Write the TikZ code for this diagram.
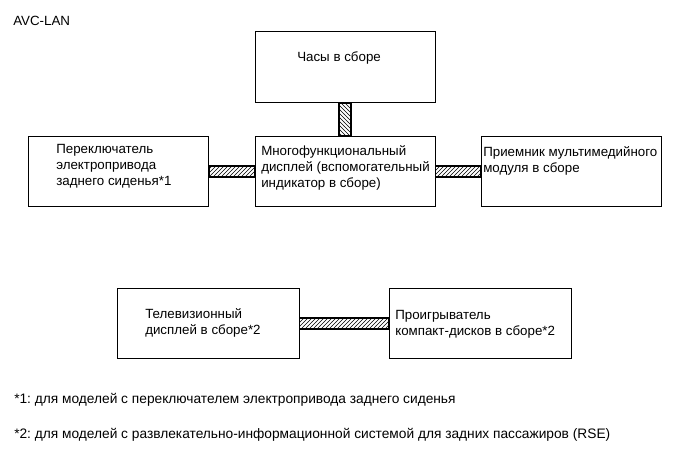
\documentclass[tikz,border=0pt]{standalone}
\usepackage{fontspec}
\setmainfont{Liberation Sans}
\frenchspacing
\usetikzlibrary{positioning, fit, patterns}

\begin{document}
\begin{tikzpicture}[
  x=0.75pt, y=-0.75pt,
  font=\fontsize{10}{12.2}\selectfont,
  unit/.style={draw, line width=0.7pt, minimum width=135pt,
               minimum height=53pt, inner sep=0pt},
  txt/.style={anchor=north west, align=left, inner sep=0pt},
  note/.style={txt, font=\fontsize{10.3}{12.2}\selectfont},
  hbus/.style={draw, line width=1.4pt, pattern=north east lines,
               inner xsep=0pt, inner ysep=4.2pt},
  vbus/.style={draw, line width=1.4pt, pattern=north west lines,
               inner xsep=4.2pt, inner ysep=0pt},
]
\useasboundingbox (0,0) rectangle (686,466);

\node[txt] (title) at (13,16) {AVC-LAN};

% units on the bus
\node[unit] (clock) at (345,67) {};
\node[unit] (mfd) at (345,171.5) {};
\node[unit] (seat) at (118.5,171.5) {};
\node[unit] (recv) at (571,171.5) {};
\node[unit, minimum width=136.5pt] (tv) at (208,323.5) {};
\node[unit, minimum width=136.5pt] (cd) at (480,323.5) {};

\node[txt] (clocktxt) at (297,51) {Часы в сборе};
\node[txt] (mfdtxt) at (261,145) {Многофункциональный\\дисплей (вспомогательный\\индикатор в сборе)};
\node[txt] (seattxt) at (56,144) {Переключатель\\электропривода\\заднего сиденья*1};
\node[txt] (recvtxt) at (483,146) {Приемник мультимедийного\\модуля в сборе};
\node[txt] (tvtxt) at (145,308) {Телевизионный\\дисплей в сборе*2};
\node[txt] (cdtxt) at (395,310) {Проигрыватель\\компакт-дисков в сборе*2};

% AVC-LAN links
\node[vbus, fit=(clock.south)(mfd.north)] (bus1) {};
\node[hbus, fit=(seat.east)(mfd.west)] (bus2) {};
\node[hbus, fit=(mfd.east)(recv.west)] (bus3) {};
\node[hbus, fit=(tv.east)(cd.west)] (bus4) {};

\node[note] (note1) at (14,393) {*1: для моделей с переключателем электропривода заднего сиденья};
\node[note] (note2) at (14,428) {*2: для моделей с развлекательно-информационной системой для задних пассажиров (RSE)};
\end{tikzpicture}
\end{document}
